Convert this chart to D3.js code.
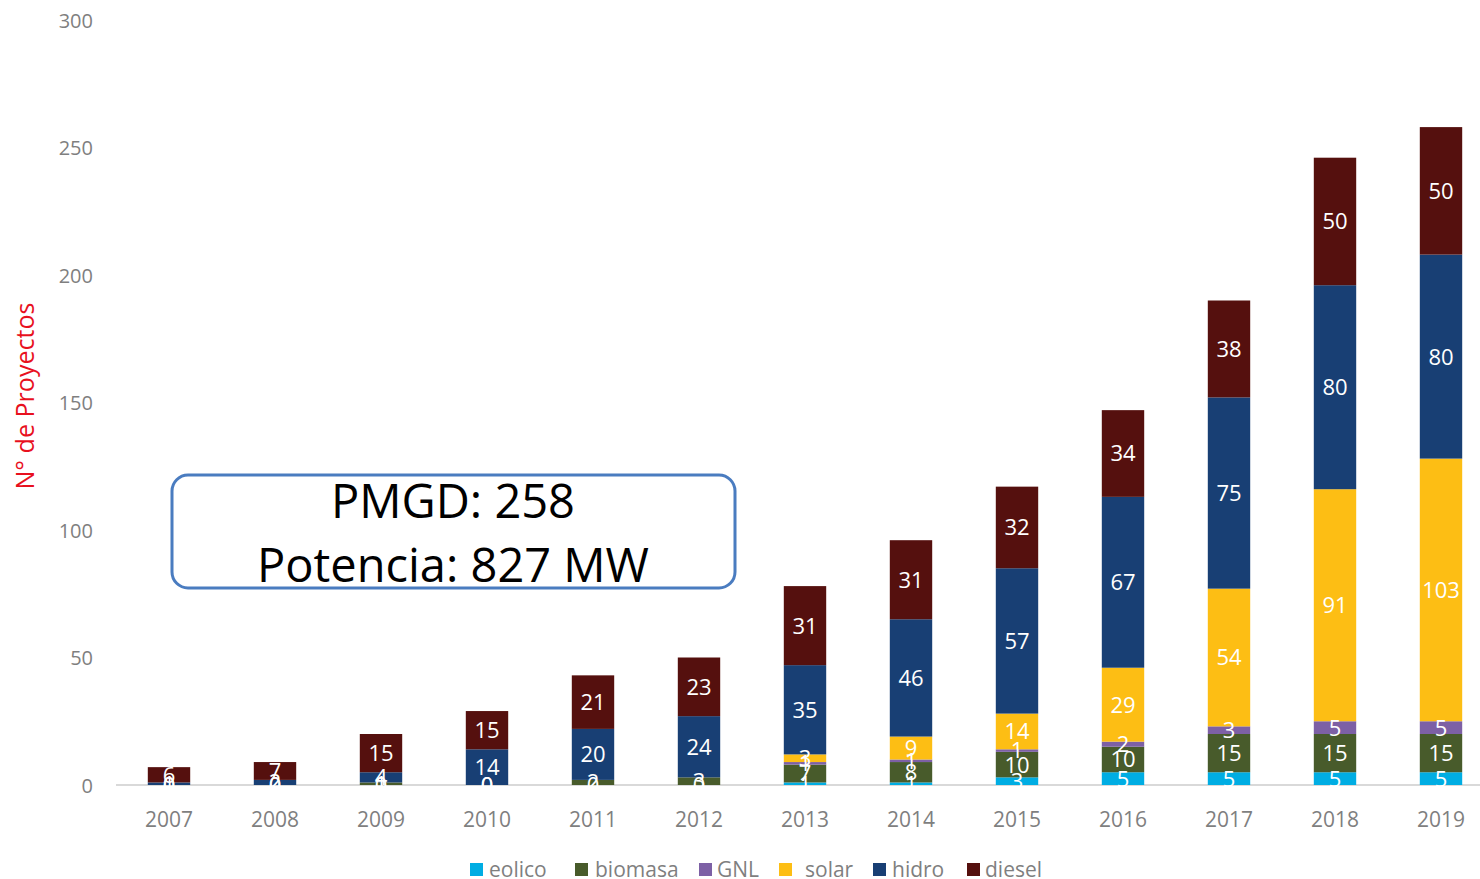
<!DOCTYPE html>
<html><head><meta charset="utf-8">
<script src="https://cdn.jsdelivr.net/npm/d3@7"></script>
<style>body{margin:0;background:#fff;}svg{display:block;}</style>
</head><body>
<svg id="c" width="1480" height="879"></svg>
<script>
const years = ["2007","2008","2009","2010","2011","2012","2013","2014","2015","2016","2017","2018","2019"];
const seriesNames = ["eolico","biomasa","GNL","solar","hidro","diesel"];
const eolico  = [0, 0, 0, 0, 0, 0, 1, 1, 3, 5, 5, 5, 5];
const biomasa = [0, 0, 1, 0, 2, 3, 7, 8, 10, 10, 15, 15, 15];
const gnl     = [null, null, null, null, null, null, 1, 1, 1, 2, 3, 5, 5];
const solar   = [null, null, null, null, null, null, 3, 9, 14, 29, 54, 91, 103];
const hidro   = [1, 2, 4, 14, 20, 24, 35, 46, 57, 67, 75, 80, 80];
const diesel  = [6, 7, 15, 15, 21, 23, 31, 31, 32, 34, 38, 50, 50];
const yTicks = [0, 50, 100, 150, 200, 250, 300];
const colors = ["#00ADE3", "#485B2B", "#7D60A5", "#FDBE14", "#183F74", "#55100E"];
const boxLines = ["PMGD: 258", "Potencia: 827 MW"];
const yTitle = "N° de Proyectos";

const svg = d3.select("#c");
const font = "'Open Sans', 'Noto Sans', sans-serif";
const x = d3.scaleBand().domain(years).range([116, 1494]).paddingInner(0.6).paddingOuter(0.3);
const y = d3.scaleLinear().domain([0, 300]).range([785, 20]);

const rows = years.map((yr, i) => ({year: yr, eolico: eolico[i], biomasa: biomasa[i], GNL: gnl[i], solar: solar[i], hidro: hidro[i], diesel: diesel[i]}));
const stack = d3.stack().keys(seriesNames).value((d, k) => d[k] || 0)(rows);

// axis baseline
svg.append("line").attr("x1", 116).attr("x2", 1480).attr("y1", y(0)).attr("y2", y(0))
  .attr("stroke", "#d9d9d9").attr("stroke-width", 2);

// y tick labels
const yAxis = d3.axisLeft(y).tickValues(yTicks).tickSize(0).tickPadding(0);
const ga = svg.append("g").attr("transform", "translate(93,0)").call(yAxis);
ga.select(".domain").remove();
ga.selectAll("text").attr("font-family", font).attr("font-size", 20).attr("fill", "#7f7f7f").attr("dy", "0.35em");

// x labels
const xAxis = d3.axisBottom(x).tickSize(0).tickPadding(0);
const gx = svg.append("g").attr("transform", "translate(0,812)").call(xAxis);
gx.select(".domain").remove();
gx.selectAll("text").attr("font-family", font).attr("font-size", 21).attr("fill", "#7f7f7f").attr("dy", "0.7em");

// bars
stack.forEach((s, si) => {
  const g = svg.append("g");
  g.selectAll("rect").data(s).join("rect")
    .attr("x", d => x(d.data.year)).attr("width", x.bandwidth())
    .attr("y", d => y(d[1])).attr("height", d => y(d[0]) - y(d[1]))
    .attr("fill", colors[si]);
});
// labels
stack.forEach((s, si) => {
  const key = seriesNames[si];
  svg.append("g").selectAll("text").data(s.filter(d => d.data[key] !== null)).join("text")
    .attr("x", d => x(d.data.year) + x.bandwidth() / 2)
    .attr("y", d => (y(d[0]) + y(d[1])) / 2)
    .attr("dy", "0.36em")
    .attr("text-anchor", "middle")
    .attr("font-family", font).attr("font-size", 22).attr("fill", "#fff")
    .text(d => d.data[key]);
});

// y title
svg.append("text").attr("transform", "translate(34,396) rotate(-90)")
  .attr("text-anchor", "middle").attr("font-family", font)
  .attr("font-size", 25).attr("fill", "#e8101e")
  .attr("textLength", 187).attr("lengthAdjust", "spacingAndGlyphs").text(yTitle);

// annotation box
svg.append("rect").attr("x", 172).attr("y", 475).attr("width", 563).attr("height", 113)
  .attr("rx", 16).attr("fill", "#fff").attr("stroke", "#4a7cc0").attr("stroke-width", 3);
svg.append("text").attr("x", 453).attr("y", 518).attr("text-anchor", "middle")
  .attr("font-family", font).attr("font-size", 47).attr("fill", "#000").text(boxLines[0]);
svg.append("text").attr("x", 453).attr("y", 582).attr("text-anchor", "middle")
  .attr("font-family", font).attr("font-size", 47).attr("fill", "#000").text(boxLines[1]);

// legend
const legX = [470, 575, 699, 779, 873, 967];
const legTX = [489, 595, 717, 805, 892, 985];
const lg = svg.append("g");
seriesNames.forEach((n, i) => {
  lg.append("rect").attr("x", legX[i]).attr("y", 863).attr("width", 13).attr("height", 13).attr("fill", colors[i]);
  lg.append("text").attr("x", legTX[i]).attr("y", 869).attr("dy", "0.36em")
    .attr("font-family", font).attr("font-size", 21).attr("fill", "#7f7f7f").text(n);
});
</script>
</body></html>
